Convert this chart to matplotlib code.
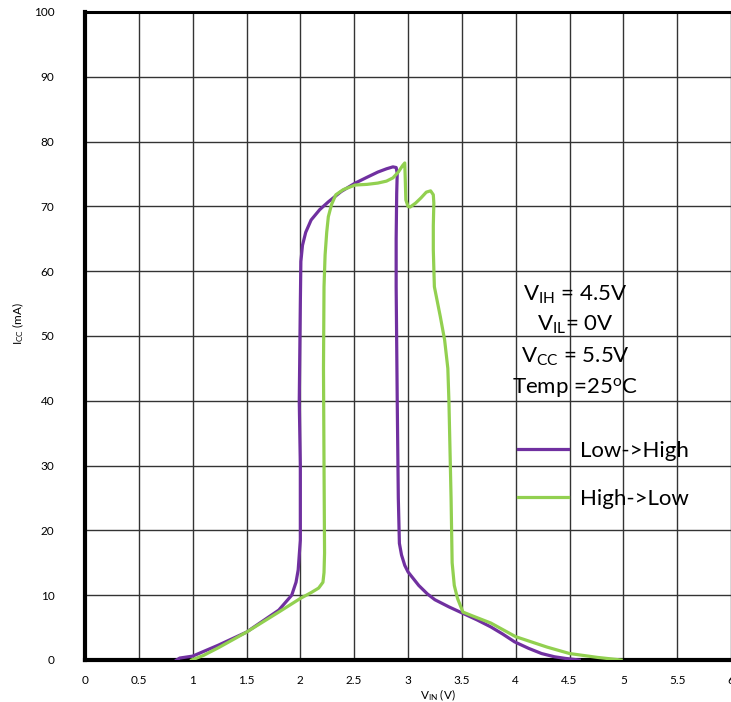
import matplotlib
matplotlib.use('Agg')
import matplotlib.pyplot as plt

# Icc vs Vin hysteresis curves
low_high_x = [0.85, 0.88, 1.0, 1.24, 1.5, 1.8, 1.92, 1.96, 1.98, 2.0, 2.0, 1.99, 2.0, 2.005,
              2.02, 2.05, 2.10, 2.18, 2.26, 2.38, 2.51, 2.62, 2.72, 2.80, 2.86, 2.89, 2.90,
              2.895, 2.89, 2.89, 2.90, 2.91, 2.92, 2.94, 2.97, 3.0, 3.1, 3.18, 3.25, 3.38,
              3.51, 3.64, 3.77, 3.88, 3.99, 4.12, 4.24, 4.36, 4.46, 4.59]
low_high_y = [0, 0.3, 0.6, 2.3, 4.3, 7.7, 10, 12, 13.9, 18.5, 30, 40, 55, 61.5,
              64.0, 66.0, 67.9, 69.5, 70.7, 72.3, 73.6, 74.5, 75.3, 75.8, 76.1, 76.0, 75.1,
              72, 65, 57.6, 40, 25, 18, 16.2, 14.6, 13.6, 11.5, 10.2, 9.3, 8.2,
              7.2, 6.2, 5.1, 4.0, 2.8, 1.8, 1.0, 0.5, 0.25, 0]

high_low_x = [0.99, 1.1, 1.24, 1.5, 1.8, 2.0, 2.1, 2.17, 2.21, 2.22, 2.225, 2.22, 2.215,
              2.22, 2.23, 2.245, 2.26, 2.29, 2.33, 2.40, 2.51, 2.62, 2.72, 2.80, 2.86, 2.91,
              2.95, 2.97, 2.975, 2.98, 3.0, 3.02, 3.07, 3.12, 3.17, 3.21, 3.235, 3.24,
              3.235, 3.235, 3.245, 3.30, 3.34, 3.37, 3.38, 3.40, 3.41, 3.43, 3.46, 3.51,
              3.6, 3.77, 4.0, 4.29, 4.5, 4.76, 4.98]
high_low_y = [0, 0.7, 1.9, 4.3, 7.4, 9.5, 10.4, 11.1, 12.0, 13.5, 16.5, 30, 45,
              57.6, 62.5, 66.0, 68.4, 70.3, 71.8, 72.6, 73.3, 73.4, 73.6, 73.9, 74.4, 75.3,
              76.3, 76.7, 74, 71, 70.0, 69.9, 70.5, 71.3, 72.2, 72.4, 71.8, 70.5,
              67, 63.3, 57.6, 53, 49.4, 45, 40, 25, 15, 11.5, 9.5, 7.4,
              6.8, 5.7, 3.6, 2.0, 1.0, 0.4, 0]

x_ticks = [0, 0.5, 1, 1.5, 2, 2.5, 3, 3.5, 4, 4.5, 5, 5.5, 6]
x_tick_labels = ['0', '0.5', '1', '1.5', '2', '2.5', '3', '3.5', '4', '4.5', '5', '5.5', '6']
y_ticks = [0, 10, 20, 30, 40, 50, 60, 70, 80, 90, 100]

conditions = ['V$_{IH}$ = 4.5V', 'V$_{IL}$= 0V', 'V$_{CC}$ = 5.5V', 'Temp =25$^{o}$C']

plt.rcParams['font.family'] = ['Lato', 'DejaVu Sans']
plt.rcParams['mathtext.fontset'] = 'custom'
plt.rcParams['mathtext.rm'] = 'Lato'
plt.rcParams['mathtext.default'] = 'regular'

fig = plt.figure(figsize=(7.31, 7.02), dpi=100)
ax = fig.add_axes([85 / 731, 42 / 702, 1 - 85 / 731, 648 / 702])

purple = '#7030A0'
green = '#92D050'

ax.plot(low_high_x, low_high_y, color=purple, lw=2.3, label='Low->High', zorder=3)
ax.plot(high_low_x, high_low_y, color=green, lw=2.3, label='High->Low', zorder=3)

ax.set_xlim(0, 5.954)
ax.set_ylim(0, 100)
ax.set_xticks(x_ticks)
ax.set_xticklabels(x_tick_labels)
ax.set_yticks(y_ticks)
ax.tick_params(length=0, labelsize=8.5)
ax.tick_params(axis='x', pad=11)
ax.tick_params(axis='y', pad=22)
ax.grid(True, color='#333333', lw=1.0)

for side in ['left', 'bottom']:
    ax.spines[side].set_linewidth(3)
ax.spines['top'].set_linewidth(2.2)
ax.spines['right'].set_visible(False)

ax.set_ylabel('I$_{CC}$ (mA)', fontsize=8.5)
ax.yaxis.set_label_coords(-0.092, 0.52)
ax.set_xlabel('V$_{IN}$ (V)', fontsize=8.5)
ax.xaxis.set_label_coords(0.546, -0.043)

y_px = [295, 325, 357, 388]
for txt, yp in zip(conditions, y_px):
    fig.text(575 / 731, 1 - yp / 702, txt, ha='center', va='center', fontsize=16)

leg = ax.legend(loc='upper left', bbox_to_anchor=(507 / 731, 1 - 430 / 702),
                bbox_transform=fig.transFigure, frameon=False, fontsize=16,
                handlelength=2.25, handletextpad=0.55, labelspacing=1.25, borderpad=0)

fig.savefig('out.png', dpi=100)
